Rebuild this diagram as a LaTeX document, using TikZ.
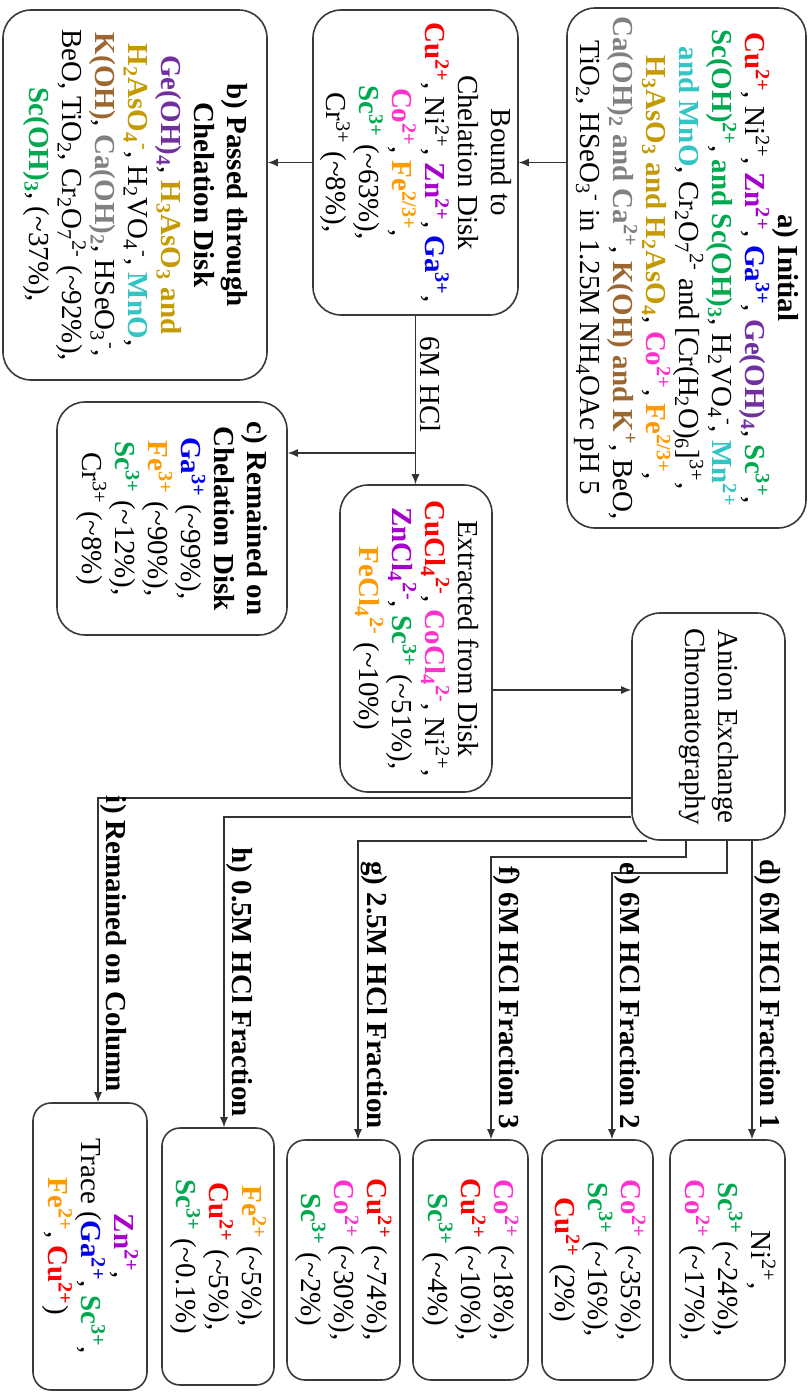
\documentclass[tikz,border=0pt]{standalone}
\usepackage{fontspec}
\setmainfont{Liberation Serif}
\usetikzlibrary{arrows.meta}
\definecolor{cCu}{HTML}{FF0000}
\definecolor{cZn}{HTML}{A800CC}
\definecolor{cGa}{HTML}{0000F0}
\definecolor{cGe}{HTML}{7030A0}
\definecolor{cSc}{HTML}{00A850}
\definecolor{cMn}{HTML}{33C4C4}
\definecolor{cAs}{HTML}{C49A00}
\definecolor{cCo}{HTML}{FF33CC}
\definecolor{cFe}{HTML}{FF9900}
\definecolor{cCa}{HTML}{808080}
\definecolor{cK}{HTML}{9C6630}
\definecolor{boxcol}{HTML}{3A3A3A}
\newcommand\spc[2]{{\color{#1}\bfseries #2}}
\newcommand\myup[1]{\textsuperscript{#1}}
\newcommand\mydn[1]{\textsubscript{#1}}
\newcommand\apx{\textasciitilde}
\tikzset{
  box/.style={draw=boxcol, line width=0.8pt, align=center, inner sep=2pt,
    font=\fontsize{14.5}{16.5}\selectfont},
  bigbox/.style={box, rounded corners=14pt},
  smallbox/.style={box, rounded corners=9pt},
  conn/.style={draw=black!80, line width=0.6pt},
  arr/.style={conn, -{Latex[length=5pt,width=4pt]}},
  lbl/.style={font=\fontsize{14.5}{16.5}\selectfont\bfseries, inner xsep=5pt, inner ysep=1pt},
  plainlbl/.style={font=\fontsize{14.5}{16.5}\selectfont, inner sep=2pt}
}
\begin{document}
\begin{tikzpicture}[x=0.5pt, y=0.5pt, rotate=-90, transform shape]
\useasboundingbox (0,0) rectangle (1393,811);
% boxes (landscape coordinates, px)
\node[bigbox, minimum width=260pt, minimum height=119.5pt] (a) at (268,686.5) {%
\textbf{a) Initial}\\
\spc{cCu}{Cu\myup{2+}}, Ni\myup{2+}, \spc{cZn}{Zn\myup{2+}}, \spc{cGa}{Ga\myup{3+}}, \spc{cGe}{Ge(OH)\mydn{4}}, \spc{cSc}{Sc\myup{3+}},\\
\spc{cSc}{Sc(OH)\myup{2+}}, \spc{cSc}{and Sc(OH)\mydn{3}}, H\mydn{2}VO\mydn{4}\myup{-}, \spc{cMn}{Mn\myup{2+}}\\
\spc{cMn}{and MnO}, Cr\mydn{2}O\mydn{7}\myup{2-} and [Cr(H\mydn{2}O)\mydn{6}]\myup{3+},\\
\spc{cAs}{H\mydn{3}AsO\mydn{3} and H\mydn{2}AsO\mydn{4}}, \spc{cCo}{Co\myup{2+}}, \spc{cFe}{Fe\myup{2/3+}},\\
\spc{cCa}{Ca(OH)\mydn{2} and Ca\myup{2+}}, \spc{cK}{K(OH) and K\myup{+}}, BeO,\\
TiO\mydn{2}, HSeO\mydn{3}\myup{-} in 1.25M NH\mydn{4}OAc pH 5};
\node[bigbox, minimum width=152.5pt, minimum height=102.5pt] (bound) at (162.5,415.5) {%
Bound to\\ Chelation Disk\\
\spc{cCu}{Cu\myup{2+}}, Ni\myup{2+}, \spc{cZn}{Zn\myup{2+}}, \spc{cGa}{Ga\myup{3+}},\\
\spc{cCo}{Co\myup{2+}}, \spc{cFe}{Fe\myup{2/3+}},\\
\spc{cSc}{Sc\myup{3+}} (\apx63\%),\\
Cr\myup{3+} (\apx8\%),};
\node[bigbox, minimum width=185pt, minimum height=132pt] (b) at (195,135) {%
\textbf{b) Passed through}\\ \textbf{Chelation Disk}\\
\spc{cGe}{Ge(OH)\mydn{4}}, \spc{cAs}{H\mydn{3}AsO\mydn{3} and}\\
\spc{cAs}{H\mydn{2}AsO\mydn{4}\myup{-}}, H\mydn{2}VO\mydn{4}\myup{-}, \spc{cMn}{MnO},\\
\spc{cK}{K(OH)}, \spc{cCa}{Ca(OH)\mydn{2}}, HSeO\mydn{3}\myup{-},\\
BeO, TiO\mydn{2}, Cr\mydn{2}O\mydn{7}\myup{2-} (\apx92\%),\\
\spc{cSc}{Sc(OH)\mydn{3}}, (\apx37\%),};
\node[bigbox, minimum width=116.5pt, minimum height=115pt] (c) at (518.5,172) {%
\textbf{c) Remained on}\\ \textbf{Chelation Disk}\\
\spc{cGa}{Ga\myup{3+}} (\apx99\%),\\
\spc{cFe}{Fe\myup{3+}} (\apx90\%),\\
\spc{cSc}{Sc\myup{3+}} (\apx12\%),\\
Cr\myup{3+} (\apx8\%)};
\node[bigbox, minimum width=153.5pt, minimum height=76pt] (ext) at (638.5,416) {%
Extracted from Disk\\
\spc{cCu}{CuCl\mydn{4}\myup{2-}}, \spc{cCo}{CoCl\mydn{4}\myup{2-}}, Ni\myup{2+},\\
\spc{cZn}{ZnCl\mydn{4}\myup{2-}}, \spc{cSc}{Sc\myup{3+}} (\apx51\%),\\
\spc{cFe}{FeCl\mydn{4}\myup{2-}} (\apx10\%)};
\node[bigbox, minimum width=113.5pt, minimum height=76.5pt] (anion) at (726.5,708.5) {%
Anion Exchange\\ Chromatography};
\node[smallbox, minimum width=120pt, minimum height=57.5pt] (d) at (1260,727.5) {%
Ni\myup{2+},\\ \spc{cSc}{Sc\myup{3+}} (\apx24\%),\\ \spc{cCo}{Co\myup{2+}} (\apx17\%),};
\node[smallbox, minimum width=120pt, minimum height=55.5pt] (e) at (1260,597.5) {%
\spc{cCo}{Co\myup{2+}} (\apx35\%),\\ \spc{cSc}{Sc\myup{3+}} (\apx16\%),\\ \spc{cCu}{Cu\myup{2+}} (2\%)};
\node[smallbox, minimum width=120pt, minimum height=57.5pt] (f) at (1260,470.5) {%
\spc{cCo}{Co\myup{2+}} (\apx18\%),\\ \spc{cCu}{Cu\myup{2+}} (\apx10\%),\\ \spc{cSc}{Sc\myup{3+}} (\apx4\%)};
\node[smallbox, minimum width=120pt, minimum height=56.5pt] (g) at (1260,343.5) {%
\spc{cCu}{Cu\myup{2+}} (\apx74\%),\\ \spc{cCo}{Co\myup{2+}} (\apx30\%),\\ \spc{cSc}{Sc\myup{3+}} (\apx2\%)};
\node[smallbox, minimum width=128.5pt, minimum height=56pt] (h) at (1256.5,218) {%
\spc{cFe}{Fe\myup{2+}} (\apx5\%),\\ \spc{cCu}{Cu\myup{2+}} (\apx5\%),\\ \spc{cSc}{Sc\myup{3+}} (\apx0.1\%)};
\node[smallbox, minimum width=143.5pt, minimum height=57pt] (i) at (1246.5,90) {%
\spc{cZn}{Zn\myup{2+}},\\ Trace (\spc{cGa}{Ga\myup{2+}}, \spc{cSc}{Sc\myup{3+}},\\ \spc{cFe}{Fe\myup{2+}}, \spc{cCu}{Cu\myup{2+}})};
% helper coordinates (landscape px)
\coordinate (cb) at (453,415.5);
\coordinate (ea) at (690,560);
\coordinate (dx) at (900,752);
\coordinate (e1) at (873,727);
\coordinate (e2) at (873,612);
\coordinate (f1) at (857,686);
\coordinate (f2) at (857,491);
\coordinate (g1) at (841,647);
\coordinate (g2) at (841,358);
\coordinate (h1) at (817,224);
\coordinate (i1) at (798,98);
% connectors (|- and -| act in landscape coordinates)
\draw[arr] (bound.north |- a.south) -- (bound.north);
\draw[arr] (bound.south) -- (bound.south |- b.north);
\draw[arr] (bound.east) -- (bound.east -| ext.west)
  node[plainlbl, pos=0.41, anchor=south] {6M HCl};
\draw[arr] (cb) -- (cb |- c.north);
\draw[arr] (ea |- ext.north) -- (ea |- anion.south);
\draw[arr] (anion.east |- dx) -- (d.west |- dx)
  node[lbl, anchor=south east] {d) 6M HCl Fraction 1};
\draw[arr] (anion.east |- e1) -- (e1) -- (e2) -- (e.west |- e2)
  node[lbl, anchor=south east] {e) 6M HCl Fraction 2};
\draw[arr] (anion.east |- f1) -- (f1) -- (f2) -- (f.west |- f2)
  node[lbl, anchor=south east] {f) 6M HCl Fraction 3};
\draw[arr] (g1) -- (g2) -- (g.west |- g2)
  node[lbl, anchor=south east] {g) 2.5M HCl Fraction};
\draw[arr] (h1 |- anion.south) -- (h1) -- (h.west |- h1)
  node[lbl, anchor=south east] {h) 0.5M HCl Fraction};
\draw[arr] (i1 |- anion.south) -- (i1) -- (i.west |- i1)
  node[lbl, anchor=south east] {i) Remained on Column};
\end{tikzpicture}
\end{document}
